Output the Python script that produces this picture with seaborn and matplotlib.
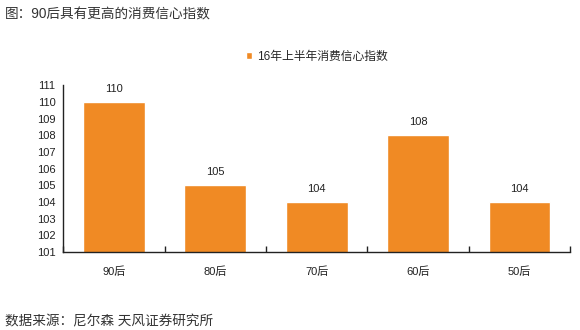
import matplotlib
matplotlib.use("Agg")
import matplotlib.pyplot as plt
import seaborn as sns
import pandas as pd

categories = ["90后", "80后", "70后", "60后", "50后"]
values = [110, 105, 104, 108, 104]
series_name = "16年上半年消费信心指数"
title = "图：90后具有更高的消费信心指数"
source = "数据来源：尼尔森 天风证券研究所"

sns.set_theme(style="white")
plt.rcParams['font.family'] = ['Liberation Sans', 'Noto Sans CJK SC', 'DejaVu Sans']

color = "#F08A24"
df = pd.DataFrame({"cat": categories, "val": values})

fig = plt.figure(figsize=(5.8, 3.3), dpi=100)
ax = fig.add_axes([0.109, 0.236, 0.874, 0.506])
sns.barplot(data=df, x="cat", y="val", color=color, width=0.61, ax=ax,
            saturation=1, label=series_name)
ax.set_ylim(101, 111)
ax.set_yticks(range(101, 112))
ax.set_xlim(-0.5, len(categories) - 0.5)
ax.set_xlabel("")
ax.set_ylabel("")
for s in ["top", "right"]:
    ax.spines[s].set_visible(False)
for s in ["left", "bottom"]:
    ax.spines[s].set_color("#222222")
    ax.spines[s].set_linewidth(1.0)
ax.tick_params(axis="y", labelsize=8, length=2.5, direction="out", colors="#222222", pad=3)
ax.tick_params(axis="x", labelsize=8, length=0, pad=10, colors="#222222")
ax.set_xticks([i - 0.5 for i in range(len(categories) + 1)], minor=True)
ax.tick_params(axis="x", which="minor", length=4, direction="in", color="#222222", bottom=True)
for p, v in zip(ax.patches, values):
    ax.annotate(f"{v}", (p.get_x() + p.get_width() / 2, p.get_height()),
                xytext=(0, 6), textcoords="offset points", ha="center", va="bottom",
                fontsize=8, color="#222222")
leg = ax.legend(loc="center", bbox_to_anchor=(0.5, 1.17), frameon=False,
                fontsize=8.5, handlelength=0.55, handleheight=0.55, handletextpad=0.35)
fig.text(0.008, 0.955, title, fontsize=9.8, color="#333333", ha="left", va="center")
fig.text(0.008, 0.027, source, fontsize=9.8, color="#333333", ha="left", va="center")
fig.savefig("out.png", dpi=100, facecolor="white")
